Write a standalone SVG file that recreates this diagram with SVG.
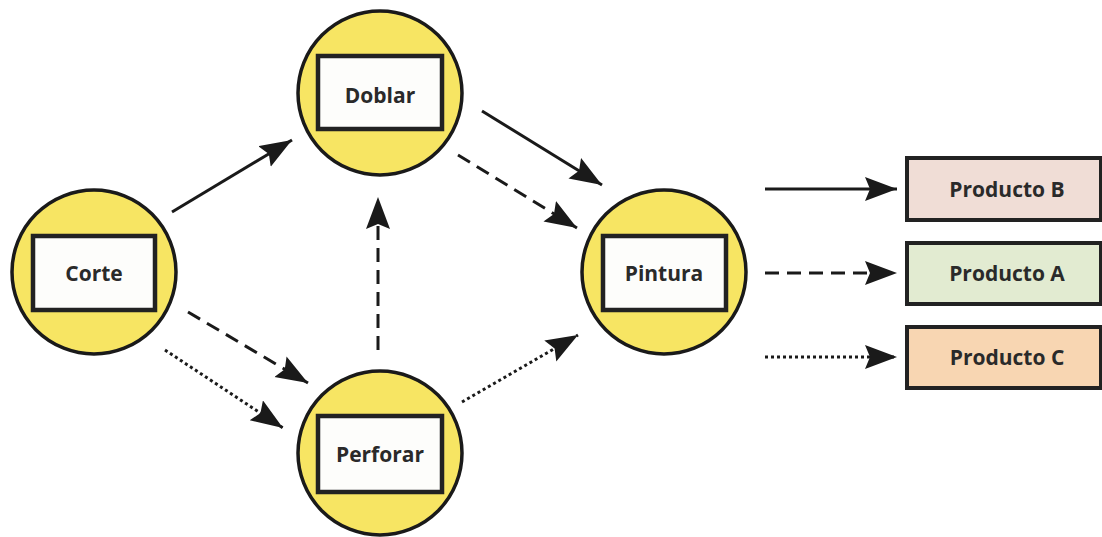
<svg xmlns="http://www.w3.org/2000/svg" width="1102" height="537" viewBox="0 0 1102 537">
<style>
.node circle{fill:#f7e563;stroke:#1a1a1a;stroke-width:3.5}
.node rect{fill:#fdfdfb;stroke:#222;stroke-width:4.5}
text{font-family:"Open Sans","Liberation Sans",sans-serif;font-weight:700;font-size:21px;fill:#2a2a2a;text-anchor:middle;dominant-baseline:central}
.prod rect{stroke:#222;stroke-width:4}
.c line{stroke:#1a1a1a;stroke-width:3;fill:none;marker-end:url(#ah)}
.dash{stroke-dasharray:14 8}
.dot{stroke-dasharray:3 3}
</style>
<defs>
<marker id="ah" markerUnits="userSpaceOnUse" markerWidth="34" markerHeight="26" refX="32" refY="12" orient="auto">
<path d="M0,0 L32,12 L0,24 L5,12 z" fill="#1a1a1a"/>
</marker>
</defs>
<rect width="1102" height="537" fill="#fff"/>
<g id="connectors" class="c">
<line x1="172" y1="212" x2="292" y2="140"/>
<line x1="482" y1="111" x2="602" y2="185"/>
<line class="dash" x1="458" y1="155" x2="577" y2="228"/>
<line class="dash" x1="188" y1="312" x2="308" y2="383"/>
<line class="dot" x1="165" y1="350" x2="283" y2="428"/>
<line class="dash" x1="378" y1="350" x2="378" y2="197"/>
<line class="dot" x1="462" y1="402" x2="578" y2="335"/>
<line x1="765" y1="189" x2="897" y2="189"/>
<line class="dash" x1="765" y1="273" x2="897" y2="273"/>
<line class="dot" x1="765" y1="357" x2="897" y2="357"/>
</g>
<g id="corte" class="node">
<circle cx="94" cy="272" r="82"/>
<rect x="33" y="236" width="122" height="74"/>
<text x="94" y="273">Corte</text>
</g>
<g id="doblar" class="node">
<circle cx="380" cy="93" r="82"/>
<rect x="318" y="56" width="124" height="73"/>
<text x="380" y="95">Doblar</text>
</g>
<g id="pintura" class="node">
<circle cx="664" cy="272" r="82"/>
<rect x="603" y="236" width="123" height="74"/>
<text x="664" y="273">Pintura</text>
</g>
<g id="perforar" class="node">
<circle cx="380" cy="453" r="82"/>
<rect x="318" y="416" width="124" height="76"/>
<text x="380" y="454">Perforar</text>
</g>
<g id="productoB" class="prod">
<rect x="907" y="158" width="194" height="62" fill="#f0ddd6"/>
<text x="1007" y="189">Producto B</text>
</g>
<g id="productoA" class="prod">
<rect x="907" y="243" width="194" height="61" fill="#e2ebd1"/>
<text x="1007" y="273">Producto A</text>
</g>
<g id="productoC" class="prod">
<rect x="907" y="327" width="194" height="61" fill="#f8d6b2"/>
<text x="1007" y="357">Producto C</text>
</g>
</svg>
